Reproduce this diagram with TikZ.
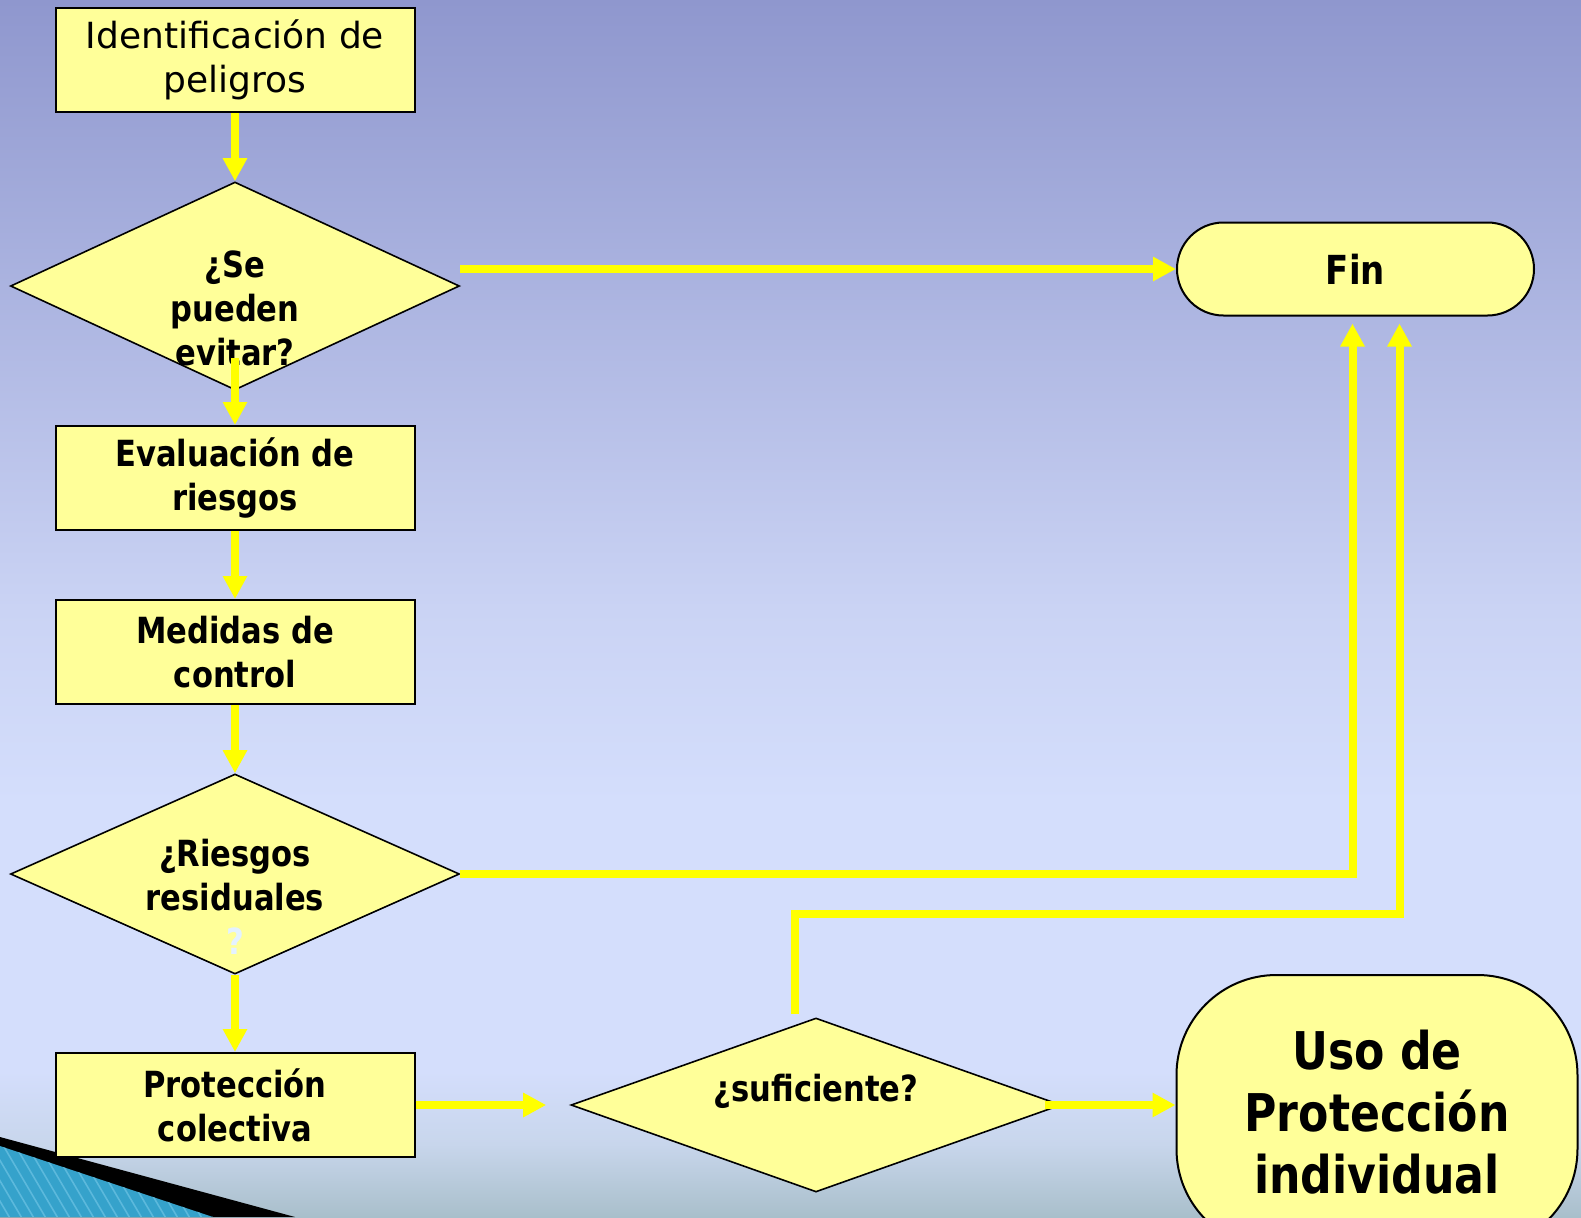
\documentclass[tikz,border=0pt]{standalone}
\usepackage{fontspec}
\setmainfont{DejaVu Sans}
\newfontfamily\negrita[FakeStretch=0.85]{DejaVu Sans}
\usetikzlibrary{shapes.geometric,shapes.misc,arrows.meta,calc}

\definecolor{relleno}{HTML}{FFFF99}
\definecolor{amarillo}{HTML}{FFFF00}
\definecolor{fondoarriba}{HTML}{8F97CE}
\definecolor{fondomedio}{HTML}{CAD3F4}
\definecolor{fondoclaro}{HTML}{D4DEFC}
\definecolor{fondobajo}{HTML}{C8D6EC}
\definecolor{fondoabajo}{HTML}{A9BFCB}
\definecolor{azul}{HTML}{35A2CB}
\definecolor{raya}{HTML}{5CB9DC}
\definecolor{palido}{HTML}{E4F2FF}

\pgfdeclareverticalshading{fondo}{100bp}{color(0bp)=(fondoabajo); color(25bp)=(fondoabajo); color(28bp)=(fondobajo); color(31bp)=(fondoclaro); color(42bp)=(fondoclaro); color(50bp)=(fondomedio); color(75bp)=(fondoarriba); color(100bp)=(fondoarriba)}

\tikzset{
	caja/.style={draw=black, line width=1pt, fill=relleno, minimum width=179.5pt, minimum height=52pt, inner sep=0pt, align=center},
	decision/.style={diamond, draw=black, line width=0.8pt, fill=relleno, inner sep=0pt},
	terminal/.style={rounded rectangle, draw=black, line width=1pt, fill=relleno, inner sep=0pt, align=center},
	texto/.style={font=\negrita\bfseries\fontsize{18}{22}\selectfont, align=center},
	flecha/.style={draw=amarillo, line width=4pt, -{Triangle[length=11.5pt,width=11.5pt]}}
}

\begin{document}
\begin{tikzpicture}[x=0.5pt,y=-0.5pt]
	\useasboundingbox (0,0) rectangle (1581,1217);
	\shade[shading=fondo] (0,0) rectangle (1581,1217);
	% adorno abajo a la izquierda
	\fill[black] (0,1137) -- (295,1217) -- (0,1217) -- cycle;
	\begin{scope}
		\clip (0,1146) -- (213,1217) -- (0,1217) -- cycle;
		\fill[azul] (0,1140) rectangle (220,1217);
		\foreach \x in {-60,-48,...,220}
			\draw[raya, line width=0.8pt] (\x,1140) -- ++(50,85);
	\end{scope}

	\node[caja, font=\fontsize{18}{22}\selectfont] (peligros) at (235,60) {Identificación de\\peligros};
	\node[decision, minimum width=224.5pt, minimum height=104pt,
		label={[texto,yshift=-11pt]center:¿Se\\pueden\\evitar?}] (evitar) at (235,286) {};
	\node[caja, texto] (evaluacion) at (235,478) {Evaluación de\\riesgos};
	\node[caja, texto] (medidas) at (235,652) {Medidas de\\control};
	\node[decision, minimum width=224.5pt, minimum height=100pt,
		label={[texto,yshift=-11.5pt]center:¿Riesgos\\residuales\\{\color{palido}?}}] (residuales) at (235,874) {};
	\node[caja, texto] (colectiva) at (235,1105) {Protección\\colectiva};
	\node[decision, minimum width=245pt, minimum height=87pt,
		label={[texto,yshift=7pt]center:¿suficiente?}] (suficiente) at (816,1105) {};
	\node[terminal, minimum width=178.5pt, minimum height=46.5pt,
		font=\negrita\bfseries\fontsize{20}{24}\selectfont] (fin) at (1355.5,269) {Fin};
	\node[rectangle, rounded corners=50pt, draw=black, line width=1pt, fill=relleno, align=center,
		minimum width=200.5pt, minimum height=137pt,
		font=\negrita\bfseries\fontsize{26}{31}\selectfont] (individual) at (1377,1112) {Uso de\\Protección\\individual};

	\draw[flecha] (peligros) -- (evitar);
	\draw[flecha] (evitar.east |- fin.west) -- (fin.west);
	\draw[flecha] ($(evitar.center)+(0,72)$) -- (evaluacion);
	\draw[flecha] (evaluacion) -- (medidas);
	\draw[flecha] (medidas) -- (residuales);
	\draw[flecha] (residuales) -- (colectiva);
	\draw[flecha] (residuales.east) -| ($(fin.south)+(-3,7)$);
	\draw[flecha] (colectiva.east) -- ($(suficiente.west)+(-24,0)$);
	\draw[flecha] ($(suficiente.east)+(-17,0)$) -- (individual.west |- suficiente.east);
	\draw[flecha] ($(suficiente.north)+(-21,-3)$) |- ($(fin.south)+(44,597)$) -- ($(fin.south)+(44,7)$);
\end{tikzpicture}
\end{document}
